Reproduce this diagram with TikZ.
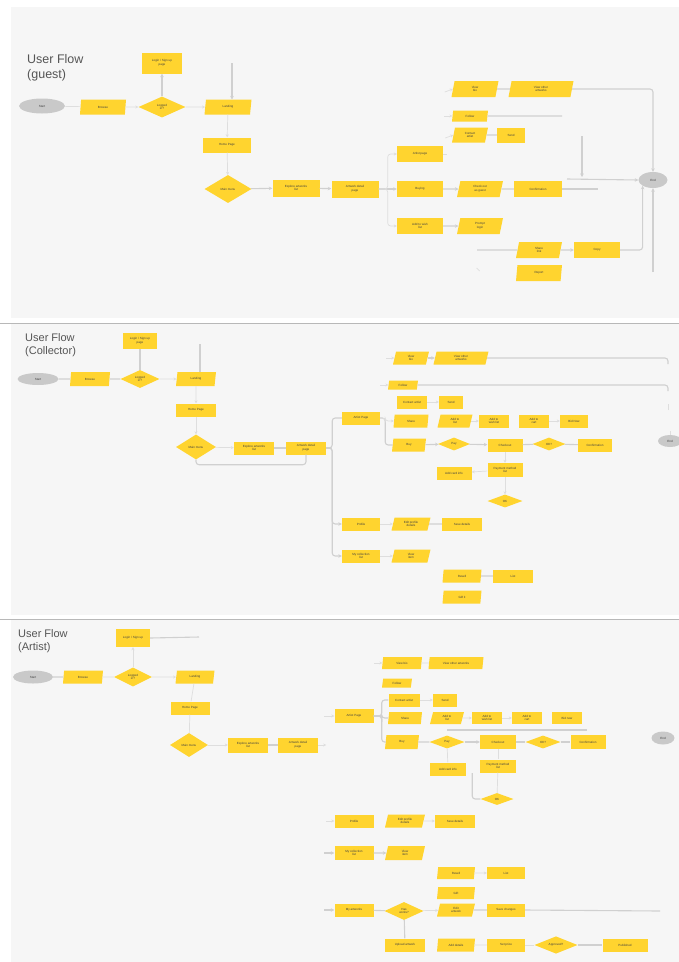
\documentclass[tikz,border=0pt]{standalone}
\usepackage{fontspec}
\setmainfont{Liberation Sans}
\usetikzlibrary{shapes.geometric,arrows.meta}
\definecolor{fy}{HTML}{FFD42F}
\definecolor{og}{HTML}{C9C9C9}
\definecolor{lg}{HTML}{D0D0D0}
\definecolor{bgc}{HTML}{F6F6F6}
\definecolor{ttl}{HTML}{555555}
\tikzset{
 lbl/.style={font=\fontsize{3}{3.6}\selectfont, text=black!75, align=center},
 rbox/.style={lbl, rectangle, fill=fy, inner sep=0pt},
 pbox/.style={lbl, trapezium, trapezium left angle=62, trapezium right angle=118, trapezium stretches body, fill=fy, inner sep=0pt},
 dbox/.style={lbl, diamond, fill=fy, inner sep=0pt},
 obox/.style={lbl, ellipse, fill=og, inner sep=0pt},
 con/.style={draw=lg, line width=1.1pt, rounded corners=3pt},
 faint/.style={draw=lg!70, line width=0.7pt, rounded corners=3pt},
 arr/.style={con, -{Stealth[length=3.5pt,width=3.5pt]}},
 farr/.style={faint, -{Stealth[length=3pt,width=3pt]}},
 title/.style={font=\fontsize{11}{13.5}\selectfont, text=ttl, align=left, anchor=north west, inner sep=0pt},
 bigtitle/.style={title, font=\fontsize{12.5}{15}\selectfont},
}
\begin{document}
\begin{tikzpicture}[x=1pt,y=-1pt]
\useasboundingbox (0,0) rectangle (679,962);
\fill[white] (0,0) rectangle (679,962);
\fill[bgc] (11,7) rectangle (679,318);
\fill[bgc] (11,324) rectangle (679,615);
\fill[bgc] (11,620) rectangle (679,962);
\draw[draw=black!28, line width=1pt] (0,323) -- (679,323);
\draw[draw=black!28, line width=1pt] (0,619) -- (679,619);

% ---------------- Panel 1 : guest
\node[bigtitle] (t1) at (27,54) {User Flow\\(guest)};
\node[obox, minimum width=46, minimum height=15] (gS) at (42,106) {Start};
\node[pbox, minimum width=46, minimum height=15] (gP1) at (103,107) {Browse};
\node[dbox, minimum width=47, minimum height=21] (gD1) at (162,107) {Logged\\in?};
\node[rbox, minimum width=40, minimum height=21] (gR0) at (162,63) {Login / Sign up\\page};
\node[pbox, minimum width=47, minimum height=15] (gP2) at (228,107) {Landing};
\node[rbox, minimum width=48, minimum height=15] (gR1) at (227,145) {Home Page};
\node[dbox, minimum width=47, minimum height=28] (gD2) at (228,189) {Main menu};
\node[rbox, minimum width=47, minimum height=17] (gR2) at (296,188) {Explore artworks\\list};
\node[rbox, minimum width=47, minimum height=17] (gR3) at (355,189) {Artwork detail\\page};
\node[rbox, minimum width=46, minimum height=16] (gR4) at (420,154) {Artist page};
\node[rbox, minimum width=46, minimum height=16] (gR5) at (420,189) {Buying};
\node[pbox, minimum width=46, minimum height=16] (gP3) at (480,189) {Check out\\as guest};
\node[rbox, minimum width=48, minimum height=16] (gR6) at (538,189) {Confirmation};
\node[rbox, minimum width=46, minimum height=16] (gR7) at (420,226) {Add to wish\\list};
\node[pbox, minimum width=46, minimum height=16] (gP4) at (480,226) {Prompt\\login};
\node[pbox, minimum width=47, minimum height=16] (gP5) at (475,89) {View\\bio};
\node[pbox, minimum width=65, minimum height=16] (gP6) at (541,89) {View other\\artworks};
\node[pbox, minimum width=36, minimum height=11] (gP7) at (470,116) {Follow};
\node[pbox, minimum width=36, minimum height=15] (gP8) at (470,135) {Contact\\artist};
\node[rbox, minimum width=28, minimum height=15] (gR8) at (511,135) {Send};
\node[obox, minimum width=29, minimum height=16] (gE) at (653,180) {End};
\node[pbox, minimum width=46, minimum height=16] (gP9) at (539,250) {Share\\link};
\node[rbox, minimum width=46, minimum height=16] (gR9) at (597,250) {Copy};
\node[pbox, minimum width=46, minimum height=16] (gP10) at (539,273) {Report};

\draw[faint] (gS) -- (gP1);
\draw[farr] (gP1) -- (gD1);
\draw[arr] (gD1) -- (gR0);
\draw[farr] (gD1) -- (gP2);
\draw[arr] (232,63) -- (232,99.5);
\draw[farr] (gP2) -- (gR1);
\draw[farr] (gR1) -- (gD2);
\draw[arr] (gD2) -- (gR2);
\draw[arr] (gR2) -- (gR3);
\draw[arr] (gR3) -- (gR5);
\draw[farr] (gR3.east) -- ++(9,0) |- (gR4);
\draw[farr] (gR3.east) -- ++(9,0) |- (gR7);
\draw[faint] (gR4.east) -- ++(4,0);
\draw[farr] (gP5.west) ++(-8,3) -- (gP5.west);
\draw[farr] (gP8.west) ++(-8,3) -- (gP8.west);
\draw[farr] (gP7.west) ++(-8,0) -- (gP7.west);
\draw[arr] (gR5) -- (gP3);
\draw[con] (gP3) -- (gR6);
\draw[con] (gR6.east) -- (598,189);
\draw[arr] (gR7) -- (gP4);
\draw[con] (gP5) -- (gP6);
\draw[arr] (gP6.east) -| (gE.north);
\draw[con] (gP7.east) -- (562,116);
\draw[con] (gP8) -- (gR8);
\draw[arr] (582,136) -- (582,177);
\draw[arr] (567,179) -- (gE.west);
\draw[arr] (653,272) -- (gE.south);
\draw[con] (477,250) -- (gP9.west);
\draw[arr] (gP9) -- (gR9);
\draw[arr] (gR9.east) -| (gE.south west);
\draw[faint] (gP10.west) ++(-40,-5) -- ++(3,3);

% ---------------- Panel 2 : collector
\node[title] (t2) at (25,333) {User Flow\\(Collector)};
\node[obox, minimum width=41, minimum height=12] (cS) at (38,379) {Start};
\node[pbox, minimum width=40, minimum height=14] (cP1) at (90,379) {Browse};
\node[dbox, minimum width=39, minimum height=18] (cD1) at (140,379) {Logged\\in?};
\node[rbox, minimum width=34, minimum height=16] (cR0) at (140,341) {Login / Sign up\\page};
\node[pbox, minimum width=40, minimum height=14] (cP2) at (196,379) {Landing};
\node[rbox, minimum width=40, minimum height=13] (cR1) at (196,410) {Home Page};
\node[dbox, minimum width=40, minimum height=25] (cD2) at (196,447) {Main menu};
\node[rbox, minimum width=40, minimum height=13] (cR2) at (254,448) {Explore artworks\\list};
\node[rbox, minimum width=40, minimum height=13] (cR3) at (306,448) {Artwork detail\\page};
\node[rbox, minimum width=38, minimum height=13] (cR4) at (361,418) {Artist Page};
\node[pbox, minimum width=36, minimum height=13] (cP3) at (411,358) {View\\bio};
\node[pbox, minimum width=55, minimum height=13] (cP4) at (461,358) {View other\\artworks};
\node[pbox, minimum width=30, minimum height=9] (cP5) at (403,385) {Follow};
\node[rbox, minimum width=30, minimum height=13] (cR5) at (412,402) {Contact artist};
\node[rbox, minimum width=24, minimum height=13] (cR6) at (451,402) {Send};
\node[pbox, minimum width=35, minimum height=13] (cP6) at (411,421) {Share};
\node[pbox, minimum width=35, minimum height=13] (cP7) at (455,421) {Add to\\list};
\node[rbox, minimum width=30, minimum height=13] (cR7) at (494,421) {Add to\\wish list};
\node[rbox, minimum width=30, minimum height=13] (cR8) at (534,421) {Add to\\cart};
\node[rbox, minimum width=28, minimum height=13] (cR9) at (574,421) {Bid Now};
\node[pbox, minimum width=34, minimum height=13] (cP8) at (409,445) {Buy};
\node[dbox, minimum width=32, minimum height=13] (cD3) at (454,444) {Pay};
\node[rbox, minimum width=35, minimum height=13] (cR10) at (505,445) {Checkout};
\node[dbox, minimum width=33, minimum height=13] (cD4) at (549,444) {OK?};
\node[rbox, minimum width=34, minimum height=13] (cR11) at (595,445) {Confirmation};
\node[rbox, minimum width=35, minimum height=13] (cR12) at (454,473) {Add card info};
\node[rbox, minimum width=35, minimum height=14] (cR13) at (505,470) {Payment method\\list};
\node[dbox, minimum width=35, minimum height=13] (cD5) at (505,501) {OK};
\node[obox, minimum width=24, minimum height=12] (cE) at (670,441) {End};
\node[rbox, minimum width=38, minimum height=13] (cR14) at (361,524) {Profile};
\node[pbox, minimum width=39, minimum height=13] (cP9) at (411,524) {Edit profile\\details};
\node[rbox, minimum width=40, minimum height=13] (cR15) at (462,524) {Save details};
\node[rbox, minimum width=38, minimum height=13] (cR16) at (361,556) {My collection\\list};
\node[pbox, minimum width=39, minimum height=13] (cP10) at (411,556) {View\\item};
\node[pbox, minimum width=39, minimum height=13] (cP11) at (462,576) {Resell};
\node[rbox, minimum width=40, minimum height=13] (cR17) at (513,576) {List};
\node[pbox, minimum width=39, minimum height=13] (cP12) at (462,597) {Gift it};

\draw[con] (cS) -- (cP1);
\draw[con] (cP1) -- (cD1);
\draw[con] (cD1) -- (cR0);
\draw[farr] (cD1) -- (cP2);
\draw[con] (200,344) -- (200,372);
\draw[farr] (cP2) -- (cR1);
\draw[farr] (cR1) -- (cD2);
\draw[farr] (cD2) -- (cR2);
\draw[con] (cR2) -- (cR3);
\draw[con] (cD2.south) -- ++(0,5) -| (cR3.south);
\draw[con] (cR3.east) -- ++(6,0) |- (cR4);
\draw[arr] (cR3.east) -- ++(6,0) |- (cR14);
\draw[arr] (cR3.east) -- ++(6,0) |- (cR16);
\draw[con] (cR4.east) -- ++(5,0) |- (cP8);
\draw[farr] (cR4.east) -- ++(5,0) |- (cP6);
\draw[farr] (cP3.west) ++(-8,0) -- (cP3.west);
\draw[arr] (cP3) -- (cP4);
\draw[con] (cP4.east) -- (668,358) -- (668,364);
\draw[farr] (cP5.west) ++(-8,0) -- (cP5.west);
\draw[con] (cP5.east) -- (668,385) -- (668,391);
\draw[farr] (cR5) -- (cR6);
\draw[farr] (cP7) -- (cR7);
\draw[farr] (cR8) -- (cR9);
\draw[arr] (cP8) -- (cD3);
\draw[arr] (cD3) -- (cR10);
\draw[con] (cR10) -- (cD4);
\draw[con] (cD4) -- (cR11);
\draw[farr] (cR13) -- (cR12);
\draw[farr] (cR10) -- (cR13);
\draw[farr] (cR13) -- (cD5);
\draw[farr] (cR14) -- (cP9);
\draw[con] (cP9) -- (cR15);
\draw[farr] (cR16) -- (cP10);
\draw[con] (cP11) -- (cR17);
\draw[faint] (668,410) -- (668,404);
\draw[faint] (cE.north) -- ++(0,-4);

% ---------------- Panel 3 : artist
\node[title] (t3) at (18,629) {User Flow\\(Artist)};
\node[obox, minimum width=40, minimum height=13] (aS) at (33,677) {Start};
\node[pbox, minimum width=40, minimum height=13] (aP1) at (83,677) {Browse};
\node[dbox, minimum width=38, minimum height=19] (aD1) at (133,677) {Logged\\in?};
\node[rbox, minimum width=34, minimum height=18] (aR0) at (133,638) {Login / Sign up};
\node[pbox, minimum width=39, minimum height=13] (aP2) at (195,677) {Landing};
\node[rbox, minimum width=39, minimum height=13] (aR1) at (190,708) {Home Page};
\node[dbox, minimum width=38, minimum height=24] (aD2) at (189,745) {Main menu};
\node[rbox, minimum width=40, minimum height=15] (aR2) at (248,745) {Explore artworks\\list};
\node[rbox, minimum width=40, minimum height=15] (aR3) at (298,745) {Artwork detail\\page};
\node[rbox, minimum width=39, minimum height=14] (aR4) at (354,716) {Artist Page};
\node[pbox, minimum width=40, minimum height=12] (aP3) at (402,663) {View bio};
\node[pbox, minimum width=55, minimum height=12] (aP4) at (456,663) {View other artworks};
\node[pbox, minimum width=30, minimum height=9] (aP5) at (397,683) {Follow};
\node[rbox, minimum width=31, minimum height=13] (aR5) at (404,700) {Contact artist};
\node[rbox, minimum width=24, minimum height=13] (aR6) at (445,700) {Send};
\node[pbox, minimum width=34, minimum height=12] (aP6) at (405,718) {Share};
\node[pbox, minimum width=34, minimum height=12] (aP7) at (447,718) {Add to\\list};
\node[rbox, minimum width=30, minimum height=12] (aR7) at (487,718) {Add to\\wish list};
\node[rbox, minimum width=30, minimum height=12] (aR8) at (527,718) {Add to\\cart};
\node[rbox, minimum width=30, minimum height=12] (aR9) at (567,718) {Bid now};
\node[pbox, minimum width=34, minimum height=14] (aP8) at (402,742) {Buy};
\node[dbox, minimum width=35, minimum height=13] (aD3) at (447,742) {Pay};
\node[rbox, minimum width=36, minimum height=14] (aR10) at (498,742) {Checkout};
\node[dbox, minimum width=35, minimum height=13] (aD4) at (543,742) {OK?};
\node[rbox, minimum width=35, minimum height=14] (aR11) at (588,742) {Confirmation};
\node[rbox, minimum width=36, minimum height=13] (aR12) at (448,769) {Add card info};
\node[rbox, minimum width=36, minimum height=13] (aR13) at (498,766) {Payment method\\list};
\node[dbox, minimum width=33, minimum height=12] (aD5) at (497,799) {OK};
\node[obox, minimum width=23, minimum height=13] (aE) at (663,738) {End};
\node[rbox, minimum width=39, minimum height=13] (aR14) at (354,821) {Profile};
\node[pbox, minimum width=40, minimum height=13] (aP9) at (405,821) {Edit profile\\details};
\node[rbox, minimum width=40, minimum height=13] (aR15) at (455,821) {Save details};
\node[rbox, minimum width=39, minimum height=14] (aR16) at (354,853) {My collection\\list};
\node[pbox, minimum width=40, minimum height=14] (aP10) at (405,853) {View\\item};
\node[pbox, minimum width=38, minimum height=12] (aP11) at (456,873) {Resell};
\node[rbox, minimum width=38, minimum height=12] (aR17) at (506,873) {List};
\node[pbox, minimum width=38, minimum height=12] (aP12) at (456,893) {Gift};
\node[rbox, minimum width=39, minimum height=13] (aR18) at (354,910) {My artworks};
\node[dbox, minimum width=39, minimum height=18] (aD6) at (404,911) {Has\\works?};
\node[pbox, minimum width=38, minimum height=13] (aP13) at (456,910) {Edit\\artwork};
\node[rbox, minimum width=38, minimum height=13] (aR19) at (506,910) {Save changes};
\node[rbox, minimum width=40, minimum height=13] (aR20) at (405,945) {Upload artwork};
\node[pbox, minimum width=38, minimum height=13] (aP14) at (456,945) {Add details};
\node[rbox, minimum width=38, minimum height=13] (aR21) at (506,945) {Set price};
\node[dbox, minimum width=43, minimum height=13] (aD7) at (556,945) {Approved?};
\node[rbox, minimum width=45, minimum height=13] (aR22) at (625,945) {Published};

\draw[con] (aS) -- (aP1);
\draw[faint] (aP1) -- (aD1);
\draw[farr] (aD1) -- (aR0);
\draw[con] (aR0.east) -- (199,637);
\draw[farr] (aD1) -- (aP2);
\draw[faint] (aP2) -- (aR1);
\draw[faint] (aR1) -- (aD2);
\draw[farr] (aD2) -- (aR2);
\draw[con] (aR2) -- (aR3);
\draw[farr] (aR3.east) -- ++(8,0);
\draw[farr] (aR4.west) ++(-10,0) -- (aR4.west);
\draw[con] (aR4.east) -- ++(8,0) |- (aR5);
\draw[con] (aR4.east) -- ++(8,0) |- (aP6);
\draw[con] (aR4.east) -- ++(8,0) |- (aP8);
\draw[farr] (aP3.west) ++(-8,0) -- (aP3.west);
\draw[faint] (aP3) -- (aP4);
\draw[farr] (aR5) -- (aR6);
\draw[farr] (aP7) -- (aR7);
\draw[farr] (aR7) -- (aR8);
\draw[con] (447,730) -- (587,730);
\draw[con] (aP8) -- (aD3);
\draw[arr] (aD3) -- (aR10);
\draw[con] (aR10) -- (aD4);
\draw[con] (aD4) -- (aR11);
\draw[faint] (aD3) -- (aR12);
\draw[con] (aR12.east) ++(6,4) |- (aD5.west);
\draw[faint] (aR10) -- (aR13);
\draw[faint] (aR13) -- (aD5);
\draw[farr] (aR14.west) ++(-8,0) -- (aR14.west);
\draw[farr] (aP9) -- (aR15);
\draw[arr] (aR16.west) ++(-10,0) -- (aR16.west);
\draw[arr] (aR16) -- (aP10);
\draw[farr] (aP11) -- (aR17);
\draw[arr] (aR18.west) ++(-10,0) -- (aR18.west);
\draw[con] (aR18) -- (aD6);
\draw[farr] (aD6) -- (aP13);
\draw[con] (aP13) -- (aR19);
\draw[con] (aR19.east) -- (660,911);
\draw[con] (aD6) -- (aR20);
\draw[faint] (aP14) -- (aR21);
\draw[faint] (aR21) -- (aD7);
\draw[con] (aD7) -- (aR22);
\end{tikzpicture}
\end{document}
